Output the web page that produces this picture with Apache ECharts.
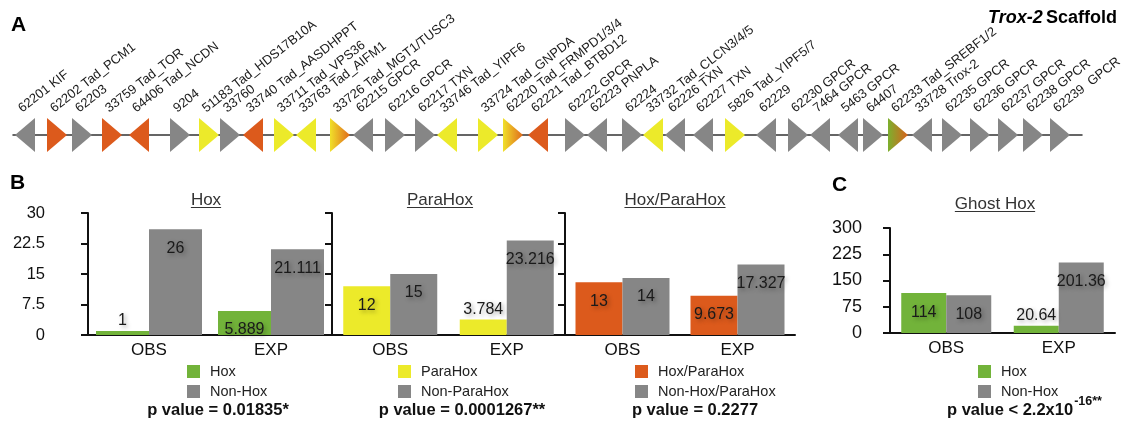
<!DOCTYPE html>
<html><head><meta charset="utf-8">
<script src="https://cdn.jsdelivr.net/npm/echarts@6/dist/echarts.min.js"></script>
<style>html,body{margin:0;padding:0;background:#fff}#c{width:1124px;height:425px}</style>
</head><body><div id="c"></div>
<script>
// ---------- Panel A: Trox-2 scaffold genes ----------
const geneNames = ['62201 KIF','62202 Tad_PCM1','62203','33759 Tad_TOR','64406 Tad_NCDN','9204',
  '51183 Tad_HDS17B10A','33760','33740 Tad_AASDHPPT','33711 Tad_VPS36','33763 Tad_AIFM1',
  '33726 Tad_MGT1/TUSC3','62215 GPCR','62216 GPCR','62217 TXN','33746 Tad_YIPF6','33724 Tad_GNPDA',
  '62220 Tad_FRMPD1/3/4','62221 Tad_BTBD12','62222 GPCR','62223 PNPLA','62224','33732 Tad_CLCN3/4/5',
  '62226 TXN','62227 TXN','5826 Tad_YIPF5/7','62229','62230 GPCR','7464 GPCR','5463 GPCR','64407',
  '62233 Tad_SREBF1/2','33728 Trox-2','62235 GPCR','62236 GPCR','62237 GPCR','62238 GPCR','62239  GPCR'];
const genePos = [25,57,82,112,139,180,209,230,253,284,306,340,363,395,425,447,488,513,538,575,597,632,
  653,675,703,735,766,798,820,848,873,898,922,952,980,1008,1033,1060];
const geneStrand = [-1,1,1,1,-1,1,1,1,-1,1,-1,1,-1,1,1,-1,1,1,-1,1,-1,1,-1,-1,-1,1,-1,1,-1,-1,1,1,-1,1,1,1,1,1];
const geneClass = ['other','hoxpara','other','hoxpara','hoxpara','other','parahox','other','hoxpara','parahox',
  'parahox','mixed','other','other','other','parahox','parahox','mixed','hoxpara','other','other','other',
  'parahox','other','other','parahox','other','other','other','other','other','hoxmixed','other','other',
  'other','other','other','other'];

// ---------- Panel B / C bar values ----------
const barCategories = ['OBS','EXP'];
const hoxValues = [1, 5.889];
const nonHoxValues = [26, 21.111];
const paraHoxValues = [12, 3.784];
const nonParaHoxValues = [15, 23.216];
const hoxParaHoxValues = [13, 9.673];
const nonHoxParaHoxValues = [14, 17.327];
const ghostHoxValues = [114, 20.64];
const ghostNonHoxValues = [108, 201.36];
const axisB = {min: 0, max: 30, interval: 7.5};
const axisC = {min: 0, max: 300, interval: 75};
const panelTitles = ['Hox','ParaHox','Hox/ParaHox','Ghost Hox'];
const pValues = ['p value = 0.01835*','p value = 0.0001267**','p value = 0.2277'];
const pGhostMain = 'p value < 2.2x10';
const pGhostSup = '-16**';

const FONT = "'Liberation Sans', Arial, Helvetica, sans-serif";
const GRAY = '#868686', GREEN = '#72b33a', YELLOW = '#ecea2a', ORANGE = '#dc5a1c';
const fills = {
  other: GRAY, hoxpara: ORANGE, parahox: YELLOW,
  mixed: {type:'linear', x:0, y:0, x2:1, y2:0, colorStops:[{offset:0,color:'#f0e02a'},{offset:1,color:'#e06a1c'}]},
  hoxmixed: {type:'linear', x:0, y:0, x2:1, y2:0, colorStops:[{offset:0,color:'#7cb02e'},{offset:1,color:'#d8621c'}]}
};

const geneData = genePos.map((p, i) => [p, geneStrand[i], i]);

const chart = echarts.init(document.getElementById('c'), null, {renderer: 'canvas'});

function barSeries(name, vals, color, idx, barW, max) {
  return {
    type: 'bar', name, xAxisIndex: idx, yAxisIndex: idx, barWidth: barW, barGap: '0%',
    itemStyle: {color},
    data: vals.map(v => {
      const small = v / max < 0.15;
      return {value: v, label: {position: small ? 'top' : 'insideTop', distance: small ? 2 : 11}};
    }),
    label: {show: true, color: '#1a1a1a', fontSize: 16, fontFamily: FONT,
      textShadowColor: 'rgba(0,0,0,0.35)', textShadowBlur: 4, textShadowOffsetX: 2, textShadowOffsetY: 2},
    emphasis: {disabled: true}
  };
}

const grids = [
  {left: 13, width: 1069, top: 118, height: 34},
  {left: 88, width: 244, top: 213, height: 122},
  {left: 332, width: 233, top: 213, height: 122},
  {left: 565, width: 230, top: 213, height: 122},
  {left: 890, width: 225, top: 228, height: 105}
];

const catAxis = idx => ({
  type: 'category', gridIndex: idx, data: barCategories,
  axisLine: {lineStyle: {color: '#111', width: 2}}, axisTick: {show: false},
  axisLabel: {color: '#111', fontSize: 17, fontFamily: FONT, margin: 7}
});
const valAxis = (idx, ax, showLabels, fs, margin) => ({
  type: 'value', gridIndex: idx, min: ax.min, max: ax.max, interval: ax.interval,
  axisLine: {show: true, lineStyle: {color: '#111', width: 2}},
  axisTick: {show: true, length: 7, lineStyle: {color: '#111', width: 2}},
  splitLine: {show: false},
  axisLabel: {show: showLabels, color: '#111', fontSize: fs, fontFamily: FONT, margin: margin}
});

// measure text for underlines / superscript placement
const mctx = document.createElement('canvas').getContext('2d');
function textW(t, font) { mctx.font = font; return mctx.measureText(t).width; }

const titleFont = '17px ' + FONT;
const titleSpecs = [[206, 206], [440, 206], [675, 206], [995, 210]];
const graphics = [];
panelTitles.forEach((t, i) => {
  const [cx, by] = titleSpecs[i];
  const w = textW(t, titleFont);
  graphics.push({type: 'text', x: cx, y: by - 6, style: {text: t, font: titleFont, fill: '#333', align: 'center', verticalAlign: 'middle'}});
  graphics.push({type: 'line', shape: {x1: cx - w / 2, y1: by + 1.5, x2: cx + w / 2, y2: by + 1.5}, style: {stroke: '#333', lineWidth: 1}});
});
const pFont = 'bold 16.5px ' + FONT;
[[218, 410], [462, 410], [695, 410]].forEach((p, i) => {
  graphics.push({type: 'text', x: p[0], y: p[1], style: {text: pValues[i], font: pFont, fill: '#111', align: 'center', verticalAlign: 'middle'}});
});
const pgw = textW(pGhostMain, pFont);
graphics.push({type: 'text', x: 947, y: 410, style: {text: pGhostMain, font: pFont, fill: '#111', align: 'left', verticalAlign: 'middle'}});
graphics.push({type: 'text', x: 947 + pgw + 1, y: 402, style: {text: pGhostSup, font: 'bold 12.5px ' + FONT, fill: '#111', align: 'left', verticalAlign: 'middle'}});
// panel letters
[['A', 11, 25], ['B', 10, 183], ['C', 832, 185]].forEach(l => {
  graphics.push({type: 'text', x: l[1], y: l[2], style: {text: l[0], font: 'bold 21px ' + FONT, fill: '#000', verticalAlign: 'middle'}});
});
graphics.push({type: 'text', right: 7, top: 9, style: {
  text: '{i|Trox-2} {b|Scaffold}',
  rich: {i: {fontStyle: 'italic', fontWeight: 'bold', fontSize: 18, fontFamily: FONT, fill: '#000'},
         b: {fontWeight: 'bold', fontSize: 18, fontFamily: FONT, fill: '#000'}}
}});

const legendBase = {orient: 'vertical', top: 364, padding: 0, itemWidth: 13, itemHeight: 13, itemGap: 5, icon: 'rect',
  selectedMode: false, textStyle: {fontSize: 14.5, fontFamily: FONT, color: '#222', lineHeight: 13, padding: [0, 0, 0, 5]}};

const option = {
  animation: false,
  backgroundColor: '#fff',
  grid: grids,
  xAxis: [
    {type: 'value', gridIndex: 0, min: 13, max: 1082, axisLine: {show: true, onZero: true, lineStyle: {color: '#333', width: 1.5}},
     axisTick: {show: false}, axisLabel: {show: false}, splitLine: {show: false}},
    catAxis(1), catAxis(2), catAxis(3), catAxis(4)
  ],
  yAxis: [
    {type: 'value', gridIndex: 0, min: -1, max: 1, show: false},
    valAxis(1, axisB, true, 16.5, 43),
    valAxis(2, axisB, false, 16, 8),
    valAxis(3, axisB, false, 16, 8),
    valAxis(4, axisC, true, 18, 28)
  ],
  legend: [
    Object.assign({}, legendBase, {left: 187, data: ['Hox', 'Non-Hox']}),
    Object.assign({}, legendBase, {left: 398, data: ['ParaHox', 'Non-ParaHox']}),
    Object.assign({}, legendBase, {left: 635, data: ['Hox/ParaHox', 'Non-Hox/ParaHox']}),
    Object.assign({}, legendBase, {left: 978, data: ['Hox', 'Non-Hox']})
  ],
  graphic: graphics,
  series: [
    {
      type: 'custom', xAxisIndex: 0, yAxisIndex: 0, data: geneData, z: 5, silent: true,
      renderItem(params, api) {
        const pos = api.value(0), dir = api.value(1), i = api.value(2);
        const half = 10;
        const tip = api.coord([pos + dir * half, 0]);
        const bt = api.coord([pos - dir * half, 1]);
        const bb = api.coord([pos - dir * half, -1]);
        const top = api.coord([pos, 1]);
        return {type: 'group', children: [
          {type: 'polygon', shape: {points: [tip, bt, bb]}, style: {fill: fills[geneClass[i]]}},
          {type: 'text', x: top[0] - 1, y: top[1] - 3, rotation: 38 * Math.PI / 180,
           style: {text: geneNames[i], font: '13px ' + FONT, fill: '#1a1a1a', align: 'left', verticalAlign: 'bottom'}}
        ]};
      }
    },
    barSeries('Hox', hoxValues, GREEN, 1, 53, axisB.max),
    barSeries('Non-Hox', nonHoxValues, GRAY, 1, 53, axisB.max),
    barSeries('ParaHox', paraHoxValues, YELLOW, 2, 47, axisB.max),
    barSeries('Non-ParaHox', nonParaHoxValues, GRAY, 2, 47, axisB.max),
    barSeries('Hox/ParaHox', hoxParaHoxValues, ORANGE, 3, 47, axisB.max),
    barSeries('Non-Hox/ParaHox', nonHoxParaHoxValues, GRAY, 3, 47, axisB.max),
    barSeries('Hox', ghostHoxValues, GREEN, 4, 45, axisC.max),
    barSeries('Non-Hox', ghostNonHoxValues, GRAY, 4, 45, axisC.max)
  ]
};
chart.setOption(option);
</script></body></html>
